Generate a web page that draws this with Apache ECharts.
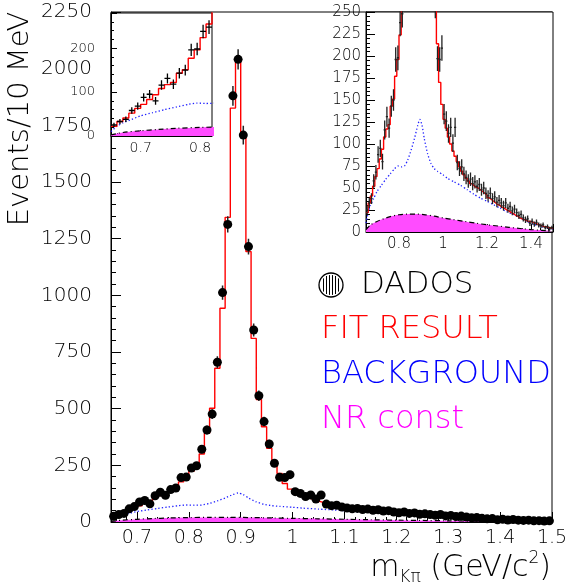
<!DOCTYPE html>
<html>
<head>
<meta charset="utf-8">
<script src="https://cdn.jsdelivr.net/npm/echarts@6/dist/echarts.min.js"></script>
<style>
  html, body { margin: 0; padding: 0; background: #fff; }
  #chart { width: 572px; height: 587px; }
</style>
</head>
<body>
<div id="chart"></div>
<script>
// K-pi invariant mass spectrum: 85 bins of 10 MeV from 0.65 to 1.50 GeV/c^2
const binLow = 0.65;
const binWidth = 0.01;

// Observed events per bin
const dataCounts = [
  25, 33, 38, 58, 68, 88, 95, 80, 116, 131, 118, 143, 150, 196, 198, 238, 248, 321, 406, 476,
  705, 1012, 1313, 1880, 2041, 1707, 1215, 847, 557,
  443, 344, 259, 197, 196, 209, 134, 126, 112, 119, 101, 119, 79, 72, 74, 66,
  62, 58, 60, 55, 57, 52, 54, 48, 50, 44, 41, 44, 38, 40, 34, 36, 33, 30, 33, 27,
  29, 24, 26, 22, 19, 20, 16, 14, 15, 10, 12, 9, 11, 8, 7, 8, 5, 6, 4, 5
];

// Fitted model per bin
const fitCounts = [
  22, 33, 41, 52, 63, 72, 83, 94, 108, 117, 122, 143, 151, 177, 196, 224, 255, 300, 391, 502,
  678, 943, 1344, 1826, 2031, 1707, 1193, 810, 540,
  420, 325, 262, 214, 170, 145, 128, 118, 108, 100, 92, 86, 80, 74, 69, 65,
  61, 58, 55, 53, 51, 50, 48, 46, 44, 42, 39, 37, 35, 33, 31, 30, 28, 27, 25, 24,
  22, 21, 19, 18, 16, 15, 14, 13, 12, 12, 11, 10, 9, 8, 7, 6, 6, 5, 5, 4
];

// Background component (curve)
const bgMass = [
  0.650, 0.660, 0.670, 0.685, 0.700, 0.720, 0.740, 0.760, 0.780, 0.795, 0.810, 0.825,
  0.840, 0.855, 0.870, 0.885, 0.895, 0.905, 0.915, 0.930, 0.945, 0.960, 0.975, 1.000,
  1.020, 1.050, 1.080, 1.110, 1.140, 1.170, 1.200, 1.230, 1.260, 1.290, 1.320, 1.350,
  1.380, 1.410, 1.440, 1.470, 1.500
];
const bgLevel = [
  10, 22, 30, 38, 46, 53, 60, 66, 72, 75, 74, 75,
  82, 93, 106, 121, 128, 121, 106, 89, 78, 72, 69, 65,
  61, 57, 53, 48, 43, 38.5, 35, 31, 27, 23, 20, 16,
  12, 9, 6.5, 4.5, 3.4
];

// Non-resonant constant component (curve)
const nrMass = [
  0.650, 0.670, 0.700, 0.730, 0.760, 0.800, 0.840, 0.880, 0.920, 0.960, 1.000,
  1.050, 1.100, 1.150, 1.200, 1.250, 1.300, 1.350, 1.400, 1.450, 1.500
];
const nrLevel = [
  2.6, 8, 12, 15, 17.5, 19.6, 20.4, 20.4, 19.5, 18, 16,
  14, 12, 10, 8.2, 6.8, 5.3, 4, 2.8, 1.9, 1.1
];

// Legend entries
const legendNames = ['DADOS', 'FIT RESULT', 'BACKGROUND', 'NR const'];
const legendColors = ['#000000', '#ff0000', '#0000ff', '#ff00ff'];

const FONT = 'DejaVu Sans';
const LIGHT = 200;

// ---- derived series -------------------------------------------------------
const centers = dataCounts.map((_, i) => +(binLow + (i + 0.5) * binWidth).toFixed(4));
const points = dataCounts.map((v, i) => [centers[i], v]);
// Poisson error per bin
const errValues = dataCounts.map(v => Math.sqrt(v));
const fitSteps = fitCounts.map((v, i) => [+(binLow + i * binWidth).toFixed(4), v]);
fitSteps.push([+(binLow + fitCounts.length * binWidth).toFixed(4), fitCounts[fitCounts.length - 1]]);
const bgLine = bgMass.map((m, i) => [m, bgLevel[i]]);
const nrLine = nrMass.map((m, i) => [m, nrLevel[i]]);

// vertical error segments separated by gaps
const errSegments = [];
points.forEach((p, i) => {
  errSegments.push([p[0], p[1] - errValues[i]], [p[0], p[1] + errValues[i]], [p[0], '-']);
});
// horizontal bin-width segments
const binSegments = [];
points.forEach(p => {
  binSegments.push([p[0] - binWidth / 2, p[1]], [p[0] + binWidth / 2, p[1]], [p[0], '-']);
});

function segSeries(data, xi, yi, width, color, z) {
  return {
    type: 'line', xAxisIndex: xi, yAxisIndex: yi, z: z,
    data: data, symbol: 'none', connectNulls: false,
    lineStyle: { color: color, width: width, cap: 'butt' }
  };
}
function nrSeries(xi, yi, z) {
  return {
    type: 'line', xAxisIndex: xi, yAxisIndex: yi, z: z,
    data: nrLine, symbol: 'none', smooth: 0.3,
    lineStyle: { color: '#000', width: 1.2, type: [5, 3, 1, 3] },
    areaStyle: { color: '#ff4cff', opacity: 1 }
  };
}
function bgSeries(xi, yi, z) {
  return {
    type: 'line', xAxisIndex: xi, yAxisIndex: yi, z: z,
    data: bgLine, symbol: 'none', smooth: 0.2,
    lineStyle: { color: '#2020ff', width: 1.3, type: [1.3, 2.2] }
  };
}
function fitSeries(xi, yi, z) {
  return {
    type: 'line', xAxisIndex: xi, yAxisIndex: yi, z: z,
    data: fitSteps, step: 'end', symbol: 'none',
    lineStyle: { color: '#ff0000', width: 1.4 }
  };
}

function valueAxis(opts) {
  const base = {
    type: 'value',
    axisLine: { show: true, onZero: false, lineStyle: { color: '#000', width: 1 } },
    axisTick: { show: true, inside: true, length: opts.tick || 9, lineStyle: { color: '#000' } },
    minorTick: { show: true, splitNumber: opts.minor || 5, length: opts.minorLen || 5, lineStyle: { color: '#000' } },
    splitLine: { show: false },
    axisLabel: {
      fontFamily: FONT, fontWeight: LIGHT, fontSize: opts.fontSize, color: '#000',
      margin: opts.margin, showMinLabel: opts.showMin, showMaxLabel: opts.showMax,
      formatter: function (v) { return String(+v.toFixed(4)); }
    }
  };
  return Object.assign(base, opts.extra);
}

const option = {
  animation: false,
  backgroundColor: '#ffffff',
  grid: [
    { left: 111, top: 12, width: 441, height: 510, show: true, borderColor: '#000', borderWidth: 1, backgroundColor: '#fff', z: 0 },
    { left: 111, top: 13, width: 101, height: 123, show: true, borderColor: '#000', borderWidth: 1, backgroundColor: '#fff', z: 3 },
    { left: 366, top: 12, width: 187, height: 220, show: true, borderColor: '#000', borderWidth: 1, backgroundColor: '#fff', z: 3 }
  ],
  xAxis: [
    valueAxis({ fontSize: 19, margin: 7, showMin: false, showMax: true, tick: 10,
      extra: { gridIndex: 0, min: 0.65, max: 1.5, splitNumber: 8 } }),
    valueAxis({ fontSize: 14, margin: 5, showMin: false, showMax: false, tick: 6, minorLen: 3,
      extra: { gridIndex: 1, min: 0.65, max: 0.82, splitNumber: 2, z: 4 } }),
    valueAxis({ fontSize: 15, margin: 5, showMin: false, showMax: false, tick: 8, minorLen: 4,
      extra: { gridIndex: 2, min: 0.65, max: 1.5, splitNumber: 4, z: 4 } })
  ],
  yAxis: [
    valueAxis({ fontSize: 20, margin: 19, showMin: true, showMax: true, tick: 10,
      extra: { gridIndex: 0, min: 0, max: 2250, interval: 250 } }),
    valueAxis({ fontSize: 13, margin: 16, showMin: true, showMax: false, tick: 6, minorLen: 3,
      extra: { gridIndex: 1, min: 0, max: 280, interval: 100, z: 4 } }),
    valueAxis({ fontSize: 15, margin: 5, showMin: true, showMax: true, tick: 9, minorLen: 4,
      extra: { gridIndex: 2, min: 0, max: 250, interval: 25, z: 4 } })
  ],
  series: [
    // main panel
    nrSeries(0, 0, 2),
    bgSeries(0, 0, 2),
    fitSeries(0, 0, 3),
    segSeries(errSegments, 0, 0, 1.5, '#222', 4),
    {
      type: 'scatter', xAxisIndex: 0, yAxisIndex: 0, z: 5,
      data: points, symbol: 'circle', symbolSize: 9,
      itemStyle: { color: '#000', opacity: 1 }
    },
    // low-mass inset
    nrSeries(1, 1, 6),
    bgSeries(1, 1, 6),
    fitSeries(1, 1, 7),
    segSeries(errSegments, 1, 1, 1.3, '#000', 8),
    segSeries(binSegments, 1, 1, 1.3, '#000', 8),
    // full-range zoomed inset
    nrSeries(2, 2, 6),
    bgSeries(2, 2, 6),
    fitSeries(2, 2, 7),
    segSeries(errSegments, 2, 2, 1.3, '#222', 8),
    segSeries(binSegments, 2, 2, 1.3, '#222', 8)
  ],
  graphic: [
    {
      type: 'text', x: 20, y: 119, rotation: Math.PI / 2, z: 10,
      style: {
        text: 'Events/10 MeV', fontFamily: FONT, fontWeight: LIGHT, fontSize: 29,
        fill: '#000', align: 'center', verticalAlign: 'middle'
      }
    },
    {
      type: 'text', x: 551, y: 568, z: 10,
      style: {
        text: '{m|m}{s|Kπ}{m| (GeV/c}{p|2}{m|)}',
        align: 'right', verticalAlign: 'middle',
        rich: {
          m: { fontFamily: FONT, fontWeight: LIGHT, fontSize: 30, lineHeight: 36, fill: '#000', verticalAlign: 'middle' },
          s: { fontFamily: FONT, fontWeight: LIGHT, fontSize: 17, lineHeight: 16, fill: '#000', verticalAlign: 'bottom' },
          p: { fontFamily: FONT, fontWeight: LIGHT, fontSize: 17, lineHeight: 16, fill: '#000', verticalAlign: 'top' }
        }
      }
    },
    // legend marker: hatched circle
    {
      type: 'group', x: 331, y: 285, z: 10,
      children: [
        { type: 'circle', shape: { cx: 0, cy: 0, r: 12 }, style: { fill: '#fff', stroke: '#000', lineWidth: 1.3 } },
        { type: 'line', shape: { x1: -7.5, y1: -6.6, x2: -7.5, y2: 6.6 }, style: { stroke: '#000', lineWidth: 1 } },
        { type: 'line', shape: { x1: -4.5, y1: -9, x2: -4.5, y2: 9 }, style: { stroke: '#000', lineWidth: 1 } },
        { type: 'line', shape: { x1: -1.5, y1: -9.9, x2: -1.5, y2: 9.9 }, style: { stroke: '#000', lineWidth: 1 } },
        { type: 'line', shape: { x1: 1.5, y1: -9.9, x2: 1.5, y2: 9.9 }, style: { stroke: '#000', lineWidth: 1 } },
        { type: 'line', shape: { x1: 4.5, y1: -9, x2: 4.5, y2: 9 }, style: { stroke: '#000', lineWidth: 1 } },
        { type: 'line', shape: { x1: 7.5, y1: -6.6, x2: 7.5, y2: 6.6 }, style: { stroke: '#000', lineWidth: 1 } }
      ]
    },
    {
      type: 'text', x: 361, y: 285, z: 10,
      style: { text: legendNames[0], fontFamily: FONT, fontWeight: LIGHT, fontSize: 31, fill: legendColors[0], verticalAlign: 'middle' }
    },
    {
      type: 'text', x: 321, y: 330, z: 10,
      style: { text: legendNames[1], fontFamily: FONT, fontWeight: LIGHT, fontSize: 32, fill: legendColors[1], verticalAlign: 'middle' }
    },
    {
      type: 'text', x: 321, y: 375, z: 10,
      style: { text: legendNames[2], fontFamily: FONT, fontWeight: LIGHT, fontSize: 32, fill: legendColors[2], verticalAlign: 'middle' }
    },
    {
      type: 'text', x: 321, y: 420, z: 10,
      style: { text: legendNames[3], fontFamily: FONT, fontWeight: LIGHT, fontSize: 32, fill: legendColors[3], verticalAlign: 'middle' }
    }
  ]
};

const chart = echarts.init(document.getElementById('chart'), null, { renderer: 'canvas' });
chart.setOption(option);
</script>
</body>
</html>
